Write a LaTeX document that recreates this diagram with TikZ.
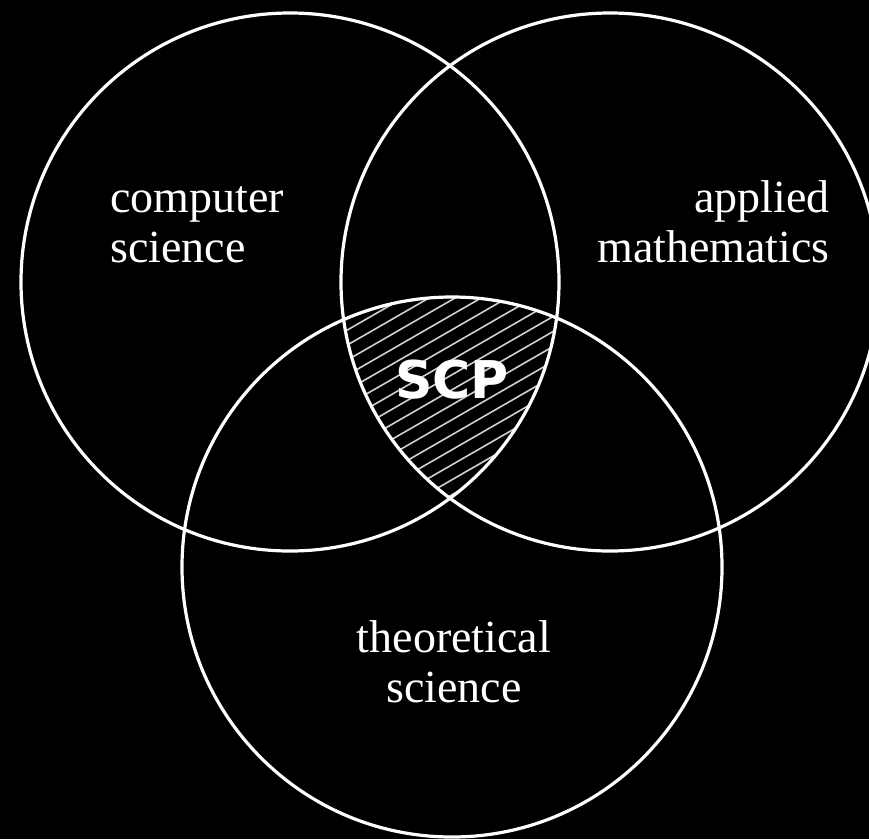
\documentclass[tikz,border=0pt]{standalone}
\usepackage{fontspec}
\usepackage{tikz}
\usepackage{xcolor}
\setmainfont{Liberation Serif}
\newfontfamily\scpfamily{DejaVu Sans}
\definecolor{board}    {HTML}{000000}
\definecolor{chalk}    {HTML}{FFFFFF}
\definecolor{hatchgray}{HTML}{D0D0D0}
\tikzset{
  ring/.style     ={draw=chalk, line width=3.2pt},
  lbl/.style      ={text=chalk, inner sep=0pt,
                    font=\fontsize{46}{50}\selectfont},
  tag/.style      ={text=chalk, inner sep=0pt,
                    font=\scpfamily\bfseries\fontsize{52}{56}\selectfont},
  hatchline/.style={draw=hatchgray, line width=1.6pt},
}

\begin{document}
\begin{tikzpicture}[x=1pt,y=-1pt]
  \fill[board] (0,0) rectangle (869,839);
  \useasboundingbox (0,0) rectangle (869,839);

  \coordinate (ccs) at (290,282);
  \coordinate (cam) at (610,282);
  \coordinate (cts) at (452,567);

  % hatched core
  \begin{scope}
    \clip (ccs) circle[radius=269];
    \clip (cam) circle[radius=269];
    \clip (cts) circle[radius=270];
    \foreach \k in {-8,...,17}
      \draw[hatchline] (330,400+\k*15) -- (580,256+\k*15);
  \end{scope}

  \draw[ring] (ccs) circle[radius=269];
  \draw[ring] (cam) circle[radius=269];
  \draw[ring] (cts) circle[radius=270];

  \node[lbl,align=left,anchor=base west]  (cs) at (110,262) {computer\\science};
  \node[lbl,align=right,anchor=base east] (am) at (830,262) {applied\\mathematics};
  \node[lbl,align=center,anchor=base]     (ts) at (454,702) {theoretical\\science};
  \node[tag,anchor=base] (scp) at (452,398) {SCP};
\end{tikzpicture}
\end{document}
